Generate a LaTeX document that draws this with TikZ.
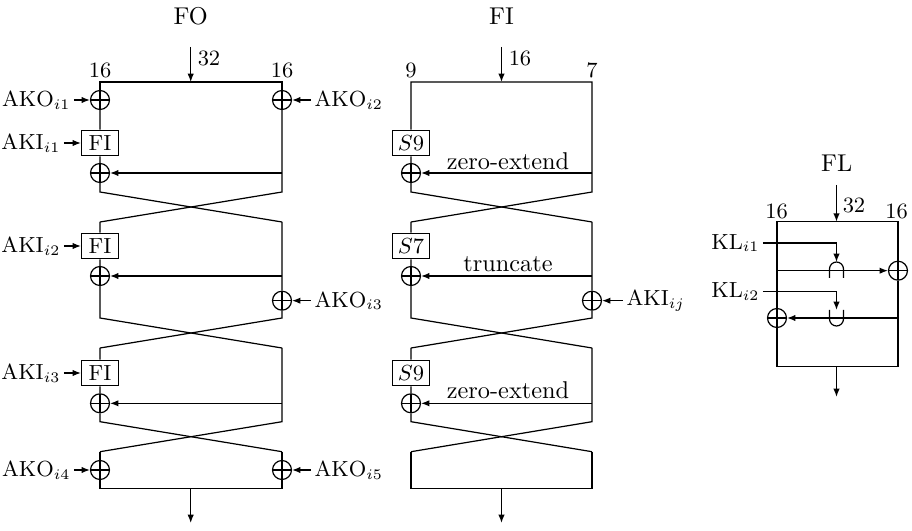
\documentclass[tikz,border=0pt]{standalone}
\usetikzlibrary{arrows.meta}
\tikzset{
  xorn/.style={circle,draw,minimum size=7.8pt,inner sep=0pt,
    path picture={\draw (path picture bounding box.north)--(path picture bounding box.south)
      (path picture bounding box.west)--(path picture bounding box.east);}},
  fbox/.style={draw,minimum width=15.2pt,minimum height=10.6pt,inner sep=0pt,font=\small},
  lab/.style={font=\small,inner sep=1.2pt},
  num/.style={font=\small,inner sep=0pt},
  ttl/.style={font=\normalsize,inner sep=0pt},
  wlab/.style={font=\normalsize,inner sep=0pt,anchor=base},
  arr/.style={-{Latex[length=3.4pt,width=2.6pt]}},
}
\begin{document}
\begin{tikzpicture}[x=0.4115pt,y=-0.4115pt,line width=0.5pt]
\useasboundingbox (0,0) rectangle (912,531);

% ================= FO =================
\node[ttl] (foT) at (190.7,16.7) {FO};
\coordinate (foIn) at (190.7,47);
\coordinate (foTop) at (190.7,82);
\draw[arr] (foIn) -- (foTop);
\node[num] (fo32) at (209,58) {32};
\node[num] (fo16a) at (100,70.5) {16};
\node[num] (fo16b) at (282,70.5) {16};
\coordinate (foTL) at (100,82);
\coordinate (foTR) at (282,82);
\node[xorn] (foX1) at (100,100) {};
\node[xorn] (foX2) at (282,100) {};
\node[fbox] (foF1) at (100,143) {FI};
\node[xorn] (foX3) at (100,173) {};
\coordinate (foB1) at (282,173);
\coordinate (foL1) at (100,192);
\coordinate (foR1) at (282,192);
\coordinate (foL1e) at (100,222);
\coordinate (foR1e) at (282,222);
\draw (foX1) -- (foTL) -- (foTR) -- (foX2);
\draw (foX1) -- (foF1) -- (foX3) -- (foL1) -- (foR1e);
\draw (foX2) -- (foR1) -- (foL1e);
\draw[arr] (foB1) -- (foX3);
\node[lab,anchor=east] (ako1) at (74,100) {AKO$_{i1}$};
\draw[arr] (ako1) -- (foX1);
\node[lab,anchor=west] (ako2) at (311,100) {AKO$_{i2}$};
\draw[arr] (ako2) -- (foX2);
\node[lab,anchor=east] (aki1) at (64,143) {AKI$_{i1}$};
\draw[arr] (aki1) -- (foF1);
% round 2
\node[fbox] (foF2) at (100,246) {FI};
\node[xorn] (foX4) at (100,276) {};
\node[xorn] (foX5) at (282,300.7) {};
\coordinate (foB2) at (282,276);
\coordinate (foL2) at (100,318);
\coordinate (foR2) at (282,318);
\coordinate (foL2e) at (100,348);
\coordinate (foR2e) at (282,348);
\draw (foL1e) -- (foF2) -- (foX4) -- (foL2) -- (foR2e);
\draw (foR1e) -- (foX5) -- (foR2) -- (foL2e);
\draw[arr] (foB2) -- (foX4);
\node[lab,anchor=east] (aki2) at (64,246) {AKI$_{i2}$};
\draw[arr] (aki2) -- (foF2);
\node[lab,anchor=west] (ako3) at (311,300.7) {AKO$_{i3}$};
\draw[arr] (ako3) -- (foX5);
% round 3
\node[fbox] (foF3) at (100,373) {FI};
\node[xorn] (foX6) at (100,403.3) {};
\coordinate (foB3) at (282,403.3);
\coordinate (foL3) at (100,421.7);
\coordinate (foR3) at (282,421.7);
\coordinate (foL3e) at (100,451.7);
\coordinate (foR3e) at (282,451.7);
\draw (foL2e) -- (foF3) -- (foX6) -- (foL3) -- (foR3e);
\draw (foR2e) -- (foR3) -- (foL3e);
\draw[arr] (foB3) -- (foX6);
\node[lab,anchor=east] (aki3) at (64,373) {AKI$_{i3}$};
\draw[arr] (aki3) -- (foF3);
% final
\node[xorn] (foX7) at (100,470) {};
\node[xorn] (foX8) at (282,470) {};
\coordinate (foBL) at (100,488.3);
\coordinate (foBR) at (282,488.3);
\coordinate (foOut) at (190.7,488.3);
\coordinate (foEnd) at (190.7,523);
\draw (foL3e) -- (foX7) -- (foBL) -- (foBR) -- (foX8) -- (foR3e);
\draw[arr] (foOut) -- (foEnd);
\node[lab,anchor=east] (ako4) at (74,470) {AKO$_{i4}$};
\draw[arr] (ako4) -- (foX7);
\node[lab,anchor=west] (ako5) at (311,470) {AKO$_{i5}$};
\draw[arr] (ako5) -- (foX8);

% ================= FI =================
\node[ttl] (fiT) at (501.5,16.7) {FI};
\coordinate (fiIn) at (501.5,47);
\coordinate (fiTop) at (501.5,82);
\draw[arr] (fiIn) -- (fiTop);
\node[num] (fi16) at (520,58) {16};
\node[num] (fi9) at (411,70.5) {9};
\node[num] (fi7) at (592,70.5) {7};
\coordinate (fiTL) at (411,82);
\coordinate (fiTR) at (592,82);
\node[fbox] (fiS1) at (411,143) {$S9$};
\node[xorn] (fiX1) at (411,173) {};
\coordinate (fiB1) at (592,173);
\coordinate (fiL1) at (411,192);
\coordinate (fiR1) at (592,192);
\coordinate (fiL1e) at (411,222);
\coordinate (fiR1e) at (592,222);
\draw (fiS1) -- (fiTL) -- (fiTR) -- (fiR1) -- (fiL1e);
\draw (fiS1) -- (fiX1) -- (fiL1) -- (fiR1e);
\draw[arr] (fiB1) -- (fiX1);
\node[wlab] (ze1) at (508,170) {zero-extend};
% round 2
\node[fbox] (fiS2) at (411,246) {$S7$};
\node[xorn] (fiX2) at (411,276) {};
\node[xorn] (fiX3) at (592,300.7) {};
\coordinate (fiB2) at (592,276);
\coordinate (fiL2) at (411,318);
\coordinate (fiR2) at (592,318);
\coordinate (fiL2e) at (411,348);
\coordinate (fiR2e) at (592,348);
\draw (fiL1e) -- (fiS2) -- (fiX2) -- (fiL2) -- (fiR2e);
\draw (fiR1e) -- (fiX3) -- (fiR2) -- (fiL2e);
\draw[arr] (fiB2) -- (fiX2);
\node[wlab] (tr1) at (508,271.5) {truncate};
\node[lab,anchor=west] (akij) at (623,300.7) {AKI$_{ij}$};
\draw[arr] (akij) -- (fiX3);
% round 3
\node[fbox] (fiS3) at (411,373) {$S9$};
\node[xorn] (fiX4) at (411,403.3) {};
\coordinate (fiB3) at (592,403.3);
\coordinate (fiL3) at (411,421.7);
\coordinate (fiR3) at (592,421.7);
\coordinate (fiL3e) at (411,451.7);
\coordinate (fiR3e) at (592,451.7);
\draw (fiL2e) -- (fiS3) -- (fiX4) -- (fiL3) -- (fiR3e);
\draw (fiR2e) -- (fiR3) -- (fiL3e);
\draw[arr] (fiB3) -- (fiX4);
\node[wlab] (ze2) at (508,398.5) {zero-extend};
% final
\coordinate (fiBL) at (411,488.3);
\coordinate (fiBR) at (592,488.3);
\coordinate (fiOut) at (501.5,488.3);
\coordinate (fiEnd) at (501.5,523);
\draw (fiL3e) -- (fiBL) -- (fiBR) -- (fiR3e);
\draw[arr] (fiOut) -- (fiEnd);

% ================= FL =================
\node[ttl] (flT) at (836.7,163) {FL};
\coordinate (flIn) at (836.5,185);
\coordinate (flTop) at (836.5,221.7);
\draw[arr] (flIn) -- (flTop);
\node[num] (fl32) at (854,205) {32};
\node[num] (fl16a) at (776.7,211.7) {16};
\node[num] (fl16b) at (896.7,211.7) {16};
\coordinate (flTL) at (777,221.7);
\coordinate (flTR) at (898,221.7);
\coordinate (flBL) at (777,366.7);
\coordinate (flBR) at (898,366.7);
\node[xorn] (flX1) at (898,270.7) {};
\node[xorn] (flX2) at (777,318) {};
\draw (flX2) -- (flTL) -- (flTR) -- (flX1);
\draw (flX1) -- (flBR) -- (flBL) -- (flX2);
\coordinate (flA1) at (777,270.7);
\coordinate (flA2) at (898,318);
\draw[arr] (flA1) -- (flX1);
\draw[arr] (flA2) -- (flX2);
% AND (cap) and OR (cup)
\coordinate (andTop) at (836.5,262);
\coordinate (orTop) at (836.5,310);
\draw (829.5,278) -- (829.5,269) arc[start angle=180,end angle=360,radius=7] -- (843.5,278);
\draw (829.5,310) -- (829.5,319) arc[start angle=180,end angle=0,radius=7] -- (843.5,310);
\node[lab,anchor=east] (kl1) at (763,243) {KL$_{i1}$};
\draw[arr] (kl1.east) -| (andTop);
\node[lab,anchor=east] (kl2) at (763,291.7) {KL$_{i2}$};
\draw[arr] (kl2.east) -| (orTop);
\coordinate (flOut) at (836.5,366.7);
\coordinate (flEnd) at (836.5,397);
\draw[arr] (flOut) -- (flEnd);
\end{tikzpicture}
\end{document}
